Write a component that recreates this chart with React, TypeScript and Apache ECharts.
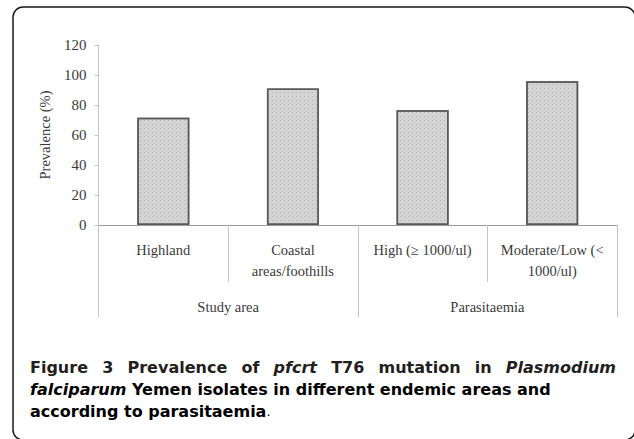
import React, { useEffect, useRef } from "react";
import * as echarts from "echarts";

const categories = ["Highland", "Coastal\nareas/foothills", "High (≥ 1000/ul)", "Moderate/Low (<\n1000/ul)"];
const groups = ["Study area", "Parasitaemia"];
const prevalence = [71.5, 91, 76.5, 95.8];
const yTicks = { min: 0, max: 120, interval: 20 };

// caption words: [text, style] where style: b = bold, i = bold italic
const captionLine1: [string, string][] = [
  ["Figure", "b"], ["3", "b"], ["Prevalence", "b"], ["of", "b"], ["pfcrt", "i"],
  ["T76", "b"], ["mutation", "b"], ["in", "b"], ["Plasmodium", "i"],
];
const captionLine2 = "{i|falciparum}{s| Yemen isolates in different endemic areas and}";
const captionLine3 = "{s|according to parasitaemia}{r|.}";

export default function App() {
  const ref = useRef<HTMLDivElement>(null);
  useEffect(() => {
    document.body.style.margin = "0";
    const chart = echarts.init(ref.current!, null, { renderer: "svg" });
    const serif = "'Liberation Serif', 'Times New Roman', serif";
    const sansName = "DejaVu Sans";
    const sans = "'DejaVu Sans', sans-serif";
    const fs = 16;
    const color = "#231f20";
    const rich = {
      s: { fontFamily: sans, fontWeight: "bold", fontSize: fs, color },
      i: { fontFamily: sans, fontWeight: "bold", fontStyle: "italic", fontSize: fs, color },
      r: { fontFamily: sans, fontWeight: "normal", fontSize: 13, color },
    };

    // justify caption line 1 across the available width
    const canvas = document.createElement("canvas");
    const ctx = canvas.getContext("2d")!;
    const measure = (t: string, st: string) => {
      ctx.font = `${st === "i" ? "italic " : ""}bold ${fs}px "${sansName}"`;
      return ctx.measureText(t).width;
    };
    const x0 = 30;
    const x1 = 616;
    const widths = captionLine1.map(([t, st]) => measure(t, st));
    const total = widths.reduce((a, b) => a + b, 0);
    const gap = (x1 - x0 - total) / (captionLine1.length - 1);
    let cx = x0;
    const line1Els: any[] = captionLine1.map(([t, st], k) => {
      const el = {
        type: "text",
        x: cx,
        y: 367,
        style: {
          text: t,
          fontFamily: sans,
          fontWeight: "bold",
          fontStyle: st === "i" ? "italic" : "normal",
          fontSize: fs,
          fill: color,
          verticalAlign: "middle",
        },
      };
      cx += widths[k] + gap;
      return el;
    });

    chart.setOption({
      animation: false,
      grid: { left: 98.5, right: 17, top: 45, bottom: 214, containLabel: false },
      xAxis: [
        {
          type: "category",
          data: categories,
          axisLine: { show: true, lineStyle: { color: "#9a9a9a", width: 1 } },
          axisTick: { show: true, interval: 0, length: 57, lineStyle: { color: "#c4c4c4", width: 1 } },
          axisLabel: { interval: 0, margin: 14, fontFamily: serif, fontSize: 14.5, lineHeight: 21.5, color: "#3a3a3a" },
        },
        {
          type: "category",
          data: groups,
          position: "bottom",
          offset: 57,
          axisLine: { show: false },
          axisTick: { show: true, interval: 0, length: 35, lineStyle: { color: "#c4c4c4", width: 1 } },
          axisLabel: { interval: 0, margin: 14, fontFamily: serif, fontSize: 14.5, lineHeight: 21.5, color: "#3a3a3a" },
        },
      ],
      yAxis: {
        type: "value",
        min: yTicks.min,
        max: yTicks.max,
        interval: yTicks.interval,
        name: "Prevalence (%)",
        nameLocation: "middle",
        nameGap: 46,
        nameTextStyle: { fontFamily: serif, fontSize: 14.5, color: "#3a3a3a" },
        axisLine: { show: true, lineStyle: { color: "#c4c4c4", width: 1 } },
        axisTick: { show: true, length: 4, lineStyle: { color: "#c4c4c4" } },
        axisLabel: { margin: 12, fontFamily: serif, fontSize: 15, color: "#3a3a3a" },
        splitLine: { show: false },
      },
      series: [
        {
          type: "bar",
          data: prevalence,
          barWidth: 52,
          itemStyle: {
            color: "#d3d3d3",
            borderColor: "#595959",
            borderWidth: 1.5,
            decal: {
              symbol: "rect",
              symbolSize: 1,
              dashArrayX: [1, 3],
              dashArrayY: [1, 3],
              color: "rgba(150,150,150,0.45)",
            },
          },
        },
      ],
      graphic: [
        {
          type: "rect",
          shape: { x: 13, y: 7, width: 622, height: 433, r: 10 },
          style: { fill: "none", stroke: "#1a1a1a", lineWidth: 1.5 },
          silent: true,
        },
        ...line1Els,
        {
          type: "text",
          x: x0,
          y: 389,
          style: { text: captionLine2, rich, verticalAlign: "middle" },
        },
        {
          type: "text",
          x: x0,
          y: 411,
          style: { text: captionLine3, rich, verticalAlign: "middle" },
        },
      ],
    });
    return () => chart.dispose();
  }, []);
  return <div ref={ref} style={{ width: 634, height: 439 }} />;
}
